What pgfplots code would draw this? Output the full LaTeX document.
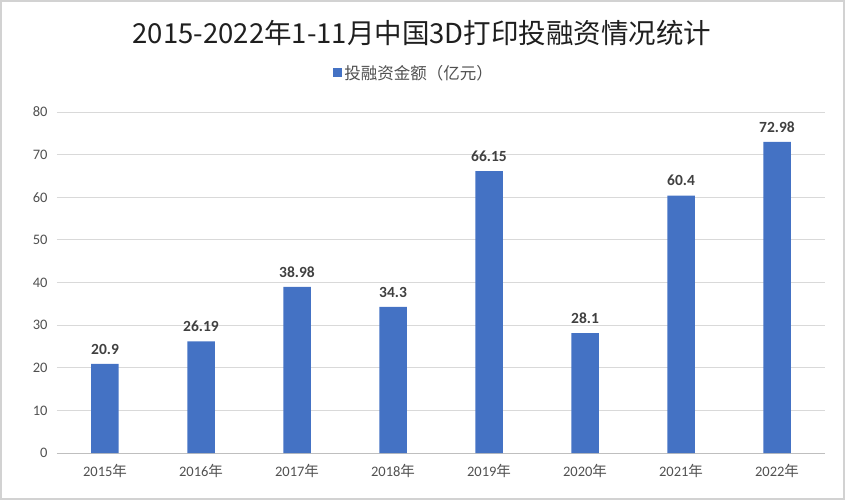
\documentclass[border=0pt]{standalone}
\usepackage{pgfplots}
\pgfplotsset{compat=1.18}
\usetikzlibrary{calc}
\usepackage{fontspec}
\setmainfont{Carlito}
\newfontfamily\cjk{Noto Sans CJK SC}
\definecolor{barblue}{HTML}{4472C4}
\definecolor{txtgray}{HTML}{505050}
\definecolor{lblgray}{HTML}{404040}
\definecolor{gridgray}{HTML}{D9D9D9}
\definecolor{axgray}{HTML}{BFBFBF}
\begin{document}
\begin{tikzpicture}
\begin{axis}[
  scale only axis, width=768pt, height=341pt,
  ymin=0, ymax=80, ytick={0,10,...,80},
  xmin=-0.5, xmax=7.5,
  xtick=data,
  xticklabels={2015{\cjk 年},2016{\cjk 年},2017{\cjk 年},2018{\cjk 年},2019{\cjk 年},2020{\cjk 年},2021{\cjk 年},2022{\cjk 年}},
  axis x line*=bottom, axis y line*=left,
  x axis line style={axgray, line width=0.8pt, -},
  y axis line style={draw=none},
  ymajorgrids, grid style={gridgray, line width=0.8pt},
  major tick length=0pt,
  /pgf/number format/assume math mode=true,
  yticklabel style={font=\fontsize{14.5}{16}\selectfont, text=txtgray, xshift=-6pt},
  xticklabel style={font=\fontsize{14.5}{16}\selectfont, text=txtgray, yshift=-8pt},
  ybar, bar width=27.5pt,
  nodes near coords,
  every node near coord/.append style={font=\bfseries\fontsize{15.5}{17}\selectfont, text=lblgray, yshift=6pt},
  point meta=explicit symbolic,
  legend style={at={(axis description cs:0.465,1.115)}, anchor=center, draw=none, fill=none,
    font=\cjk\fontsize{16.5}{18}\selectfont, text=txtgray, legend columns=1},
  legend image code/.code={\fill[barblue] (0pt,-4.5pt) rectangle (9pt,4.5pt);},
  clip=false,
]
\addplot[fill=barblue, draw=none] coordinates {
 (0,20.9) [20.9]
 (1,26.19) [26.19]
 (2,38.98) [38.98]
 (3,34.3) [34.3]
 (4,66.15) [66.15]
 (5,28.1) [28.1]
 (6,60.4) [60.4]
 (7,72.98) [72.98]
};
\addlegendentry{投融资金额（亿元）}
\coordinate (O) at (rel axis cs:0,0);
\end{axis}
\coordinate (BL) at ($(O)+(-57pt,-47pt)$);
\pgfresetboundingbox
\path[use as bounding box] (BL) rectangle ++(845pt,500pt);
\draw[gray!35, line width=2pt] ($(BL)+(1pt,1pt)$) rectangle ($(BL)+(844pt,499pt)$);
\node[font=\cjk\fontsize{27.5}{30}\selectfont, text=black!88] at ($(BL)+(422pt,467pt)$) {2015-2022年1-11月中国3D打印投融资情况统计};
\end{tikzpicture}
\end{document}
